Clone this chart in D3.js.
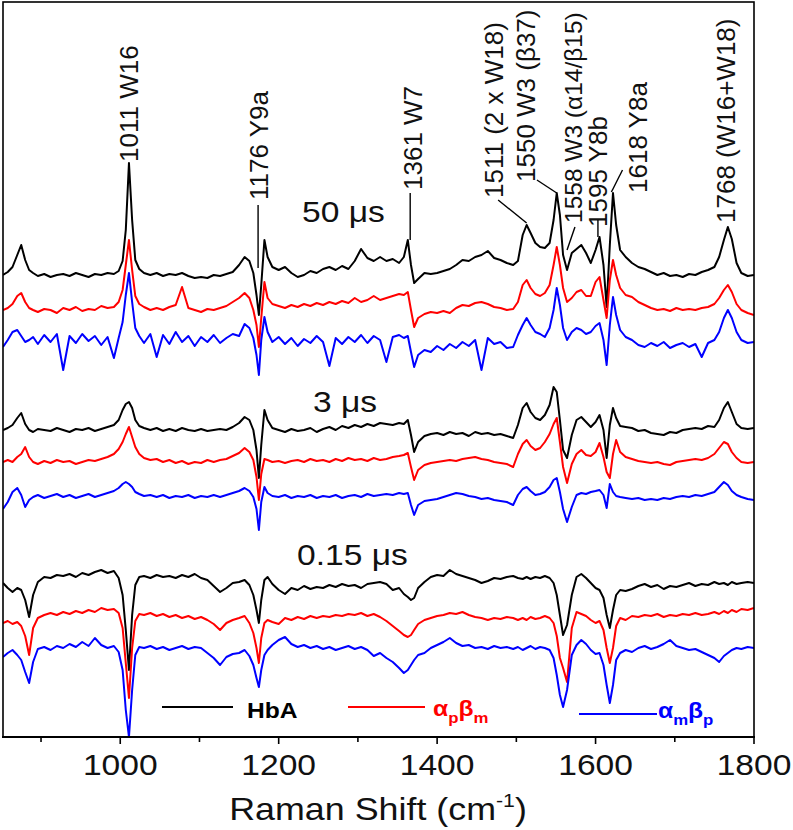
<!DOCTYPE html>
<html><head><meta charset="utf-8">
<script src="https://cdn.jsdelivr.net/npm/d3@7"></script>
<style>
html,body{margin:0;padding:0;background:#fff;}
svg{display:block;font-family:"Liberation Sans",Arial,sans-serif;}
</style></head>
<body><svg id="c" width="793" height="830"></svg>
<script>
// ---------------- data ----------------
const shifts = [
 852,858,864,870,875,880,885,890,896,904,
 912,920,928,936,944,952,960,968,976,984,
 992,998,1003,1007,1011,1015,1019,1024,1030,1038,
 1046,1054,1062,1070,1078,1086,1094,1102,1110,1118,
 1126,1134,1142,1150,1157,1163,1168,1172,1175,1178,
 1182,1186,1192,1200,1208,1216,1224,1232,1240,1248,
 1256,1264,1272,1280,1288,1296,1304,1312,1320,1328,
 1336,1344,1352,1358,1363,1367,1371,1376,1384,1392,
 1400,1408,1416,1424,1432,1440,1448,1456,1464,1472,
 1480,1488,1496,1502,1508,1513,1518,1524,1530,1536,
 1542,1547,1551,1555,1559,1564,1570,1576,1582,1588,
 1594,1600,1605,1610,1614,1618,1622,1626,1631,1638,
 1646,1654,1662,1670,1678,1686,1694,1702,1710,1718,
 1726,1734,1742,1750,1756,1762,1767,1772,1778,1784,
 1792,1800];

// 50 us
const hbA_50 = [
 0,3,8,20,30,15,5,2,-1,1,
 -2,0,1,-1,2,0,-2,1,0,2,
 1,4,14,45,112,55,15,6,2,0,
 2,-1,1,0,2,-1,-3,-2,-3,0,
 -1,1,3,10,18,14,2,-20,-40,-10,
 35,18,8,5,8,2,-2,0,4,2,
 6,8,5,9,6,14,26,17,14,18,
 14,16,12,18,35,10,-8,-4,2,1,
 2,4,6,10,15,14,18,20,24,17,
 15,12,10,14,40,50,42,32,28,27,
 32,55,82,60,20,5,22,26,30,22,
 12,25,38,10,-32,30,82,50,25,18,
 12,8,6,3,0,2,-1,0,-2,1,
 0,3,5,8,18,35,48,36,12,2,
 -1,0];
const apbm_50 = [
 0,2,6,14,17,8,2,0,-2,1,
 0,-3,2,0,3,-1,1,0,4,2,
 3,8,20,45,70,40,14,6,3,0,
 2,0,3,5,23,2,0,-2,1,0,
 2,4,8,12,17,12,0,-15,-37,-8,
 28,12,6,4,2,5,3,6,4,7,
 5,8,6,9,7,12,8,10,14,10,
 12,14,16,15,18,0,-17,-8,-4,-2,
 -3,-1,-3,2,5,4,7,8,6,3,
 2,0,1,8,25,30,22,16,14,17,
 25,45,63,45,22,8,12,18,20,14,
 14,28,33,10,-8,30,50,35,22,15,
 13,8,5,2,0,1,-1,2,0,1,
 0,2,3,6,12,20,25,18,6,0,
 -3,-5];
const ambp_50 = [
 -7,0,8,10,4,-2,0,3,-4,5,
 -2,6,-30,4,-3,6,-1,4,-5,3,
 -18,2,18,45,67,38,12,4,-3,6,
 -17,5,-4,8,-2,4,-6,3,-2,5,
 -3,2,6,4,16,12,2,-15,-35,0,
 23,8,-2,3,-4,2,-6,1,-3,4,
 -2,-26,2,-4,3,-2,5,-3,4,0,
 -22,3,5,2,4,-12,-27,-15,-10,-12,
 -6,-10,-4,-8,-2,-6,0,-30,2,-4,
 -2,-8,-7,5,15,22,15,8,6,3,
 12,30,52,35,12,0,8,12,10,6,
 8,14,17,0,-25,15,43,25,10,3,
 0,-5,-7,-3,-6,-2,-8,-5,-3,-7,
 -4,-17,-3,0,8,22,30,22,8,0,
 -3,-2];
// 3 us
const hbA_3 = [
 0,2,5,12,17,6,0,-2,1,0,
 -1,2,0,-2,1,0,2,-1,1,3,
 5,10,20,26,28,22,10,4,2,0,
 2,-1,1,-1,2,0,-1,1,-1,0,
 1,0,3,7,13,10,0,-20,-48,-15,
 20,10,2,0,-2,1,-1,0,2,-2,
 1,3,0,4,2,5,3,6,4,7,
 6,5,7,6,10,-5,-22,-12,-6,-4,
 -3,-5,-2,-4,-3,-6,-2,-4,-3,-5,
 -4,-6,-8,5,22,27,18,12,10,15,
 25,43,38,10,-20,-28,-5,10,13,8,
 3,8,15,0,-28,5,22,12,4,3,
 2,-1,0,-3,-4,-5,-2,-3,0,1,
 2,1,4,3,10,22,28,18,6,2,
 1,2];
const apbm_3 = [
 0,2,0,5,8,15,5,0,-2,1,
 -1,2,0,1,-2,0,2,1,3,5,
 8,13,20,28,35,25,15,8,4,2,
 3,0,2,-1,1,-2,0,-1,2,0,
 2,3,6,9,14,10,2,-15,-38,-12,
 3,2,0,1,-1,1,2,0,3,1,
 2,0,3,1,4,2,3,1,4,2,
 3,5,6,7,9,-5,-18,-8,-3,-1,
 0,1,2,1,3,4,5,3,2,0,
 -1,-2,-5,8,18,22,16,12,14,20,
 28,38,44,20,-5,-21,-2,8,12,7,
 6,10,19,5,-10,-16,8,22,10,5,
 3,1,0,-1,0,-2,-3,0,1,2,
 3,2,4,8,14,20,18,10,4,0,
 -1,0];
const ambp_3 = [
 -12,-5,5,9,2,-10,-3,0,2,-1,
 1,3,0,2,-1,1,3,0,2,4,
 6,9,13,15,13,10,5,3,1,2,
 0,2,-1,1,0,2,-1,1,0,2,
 0,2,4,6,9,6,0,-12,-33,-5,
 10,4,1,0,2,-1,1,0,2,-1,
 1,0,2,-1,1,2,0,3,1,2,
 3,2,4,3,4,-8,-18,-8,-4,-3,
 -2,0,2,4,3,1,0,-2,-1,-3,
 -4,-5,-8,2,8,10,6,2,3,5,
 10,17,19,5,-12,-25,-10,2,4,3,
 5,6,7,2,-11,13,5,1,0,-1,
 -2,-1,-3,-2,-3,-1,-2,0,1,0,
 2,1,3,5,10,15,12,6,2,0,
 -2,-3];
// 0.15 us
const hbA_015 = [
 -3,-8,-12,-8,-10,-20,-37,-15,-2,3,
 2,5,4,6,3,7,5,8,10,7,
 9,2,-15,-50,-90,-35,-5,3,4,2,
 5,3,4,2,5,3,6,2,0,-6,
 -12,-8,-3,-2,0,-5,-15,-30,-43,-20,
 0,3,-4,-10,-14,-8,-10,-6,-9,-7,
 -8,-5,-7,-4,-6,-5,-8,-4,-3,-2,
 -4,-10,-8,-14,-17,-20,-18,-8,-2,3,
 5,4,10,6,4,2,0,-3,-1,2,
 1,3,4,2,1,3,1,3,2,4,
 2,-3,-15,-35,-55,-45,-15,3,6,2,
 -3,-8,-10,-18,-35,-48,-30,-15,-10,-11,
 -9,-6,-4,-7,-5,-9,-6,-7,-5,-3,
 -6,-4,-5,-2,-4,-3,-5,-2,-4,-3,
 -2,-3];
const apbm_015 = [
 -5,-3,-6,-4,-8,-18,-37,-10,0,3,
 5,3,6,4,7,5,8,6,10,8,
 9,5,-10,-45,-80,-30,-3,4,3,5,
 2,4,1,3,0,2,-1,1,-2,-6,
 -12,-5,-2,0,2,-5,-15,-30,-45,-20,
 -5,-2,-4,-6,0,-2,1,-1,2,0,
 2,1,3,2,4,3,5,2,4,1,
 -3,-8,-13,-17,-19,-17,-12,-6,-2,0,
 2,3,5,4,6,3,1,0,-2,0,
 -1,1,0,-2,0,-2,1,-1,0,2,
 0,-5,-18,-40,-50,-64,-10,6,4,2,
 -2,-5,-3,-12,-30,-45,-30,-8,0,-2,
 2,1,3,2,4,1,3,2,4,3,
 5,3,4,6,4,7,5,8,6,9,
 8,10];
const ambp_015 = [
 -7,-3,0,-5,-10,-22,-33,-12,1,3,
 0,4,2,6,3,8,4,12,5,2,
 4,-2,-20,-60,-87,-40,-5,3,2,4,
 1,3,0,2,4,1,3,2,-3,-8,
 -15,-7,-4,-3,0,-6,-15,-28,-37,-20,
 -5,0,5,10,13,6,3,5,2,4,
 1,3,0,2,4,1,3,0,-6,-3,
 -8,-12,-18,-23,-20,-15,-10,-5,-3,2,
 5,8,12,7,4,5,2,3,1,4,
 2,3,1,3,0,2,4,1,3,2,
 0,-8,-25,-45,-57,-40,-5,5,10,6,
 0,-4,-3,-15,-35,-53,-35,-10,-3,0,
 -2,2,4,1,3,6,10,4,2,0,
 1,-2,-5,-8,-12,-6,-3,0,2,1,
 3,2];

const seriesValues = [hbA_50, apbm_50, ambp_50, hbA_3, apbm_3, ambp_3, hbA_015, apbm_015, ambp_015];
const stackOffsets = [462, 427, 397, 307, 275, 240, 157, 119, 87];
const seriesColors = ["#000000", "#ff0000", "#0000ff", "#000000", "#ff0000", "#0000ff", "#000000", "#ff0000", "#0000ff"];
const xTicks = [1000, 1200, 1400, 1600, 1800];
const xMinorTicks = [900, 1000, 1100, 1200, 1300, 1400, 1500, 1600, 1700, 1800];
const delayLabels = ["50 \u03bcs", "3 \u03bcs", "0.15 \u03bcs"];
const bandLabels = ["1011 W16", "1176 Y9a", "1361 W7", "1511 (2 x W18)", "1550 W3 (\u03b237)",
  "1558 W3 (\u03b114/\u03b215)", "1595 Y8b", "1618 Y8a", "1768 (W16+W18)"];
const bandLabelShift = [1022, 1186, 1381, 1483, 1523, 1583, 1614, 1665, 1776];

// ---------------- layout ----------------
const svg = d3.select("#c");
const L = 3, R = 754, T = 2, B = 737;
const x = d3.scaleLinear().domain([852, 1800]).range([L, R]);
const y = d3.scaleLinear().domain([0, 735]).range([B, T]);
const STRETCH = 1.12;

svg.append("defs").append("clipPath").attr("id", "clip")
  .append("rect").attr("x", L).attr("y", T).attr("width", R - L).attr("height", B - T);

const line = d3.line().x(d => x(d[0])).y(d => y(d[1]));
const g = svg.append("g").attr("clip-path", "url(#clip)");
seriesValues.forEach((vals, i) => {
  const pts = shifts.map((s, k) => [s, stackOffsets[i] + vals[k]]);
  g.append("path").attr("d", line(pts)).attr("fill", "none")
    .attr("stroke", seriesColors[i]).attr("stroke-width", 2).attr("stroke-linejoin", "round");
});

// frame
svg.append("rect").attr("x", L).attr("y", T).attr("width", R - L).attr("height", B - T)
  .attr("fill", "none").attr("stroke", "#000").attr("stroke-width", 1.6);

// x axis
const axis = svg.append("g").attr("transform", `translate(0,${B})`);
axis.append("line").attr("x1", L - 1).attr("x2", R + 1).attr("stroke", "#000").attr("stroke-width", 2.2);
xMinorTicks.forEach(t => {
  const major = xTicks.includes(t);
  axis.append("line").attr("x1", x(t)).attr("x2", x(t)).attr("y1", 0).attr("y2", major ? 7 : 5)
    .attr("stroke", "#000").attr("stroke-width", 1.6);
});
xTicks.forEach(t => {
  axis.append("g").attr("transform", `translate(${x(t)},38) scale(${STRETCH},1)`)
    .append("text").attr("text-anchor", "middle").attr("font-size", 30).attr("fill", "#111").text(t);
});
const title = svg.append("g").attr("transform", `translate(378,820) scale(${STRETCH},1)`)
  .append("text").attr("text-anchor", "middle").attr("font-size", 32).attr("fill", "#111");
title.append("tspan").text("Raman Shift (cm");
title.append("tspan").attr("font-size", 19).attr("dy", -13).text("-1");
title.append("tspan").attr("dy", 13).text(")");

// delay labels
const delayPos = [[302, 222], [313, 412], [297, 565]];
delayLabels.forEach((t, i) => {
  svg.append("g").attr("transform", `translate(${delayPos[i][0]},${delayPos[i][1]}) scale(${STRETCH},1)`)
    .append("text").attr("font-size", 30).attr("fill", "#111").text(t);
});

// band labels (rotated)
const bandBottom = [162, 200, 190, 198, 182, 223, 227, 193, 223];
const bandSize = [26, 26, 26, 26, 26, 24.5, 26, 26, 26];
bandLabels.forEach((t, i) => {
  svg.append("text").attr("transform", `translate(${x(bandLabelShift[i])},${bandBottom[i]}) rotate(-90)`)
    .attr("font-size", bandSize[i]).attr("fill", "#111").text(t);
});
// leader lines [shift1, y1, shift2, y2]
const leaders = [[1174, 205, 1174, 268], [1366, 193, 1366, 240], [1477, 200, 1513, 223],
  [1526, 180, 1551, 193], [1574, 227, 1564, 250], [1603, 220, 1603, 237], [1634, 170, 1620, 192]];
leaders.forEach(l => {
  svg.append("line").attr("x1", x(l[0])).attr("y1", l[1]).attr("x2", x(l[2])).attr("y2", l[3])
    .attr("stroke", "#000").attr("stroke-width", 1.4);
});

// legend
const leg = svg.append("g");
leg.append("line").attr("x1", 162).attr("x2", 233).attr("y1", 707).attr("y2", 707).attr("stroke", "#000").attr("stroke-width", 2);
leg.append("g").attr("transform", `translate(247,718) scale(${STRETCH},1)`)
  .append("text").attr("font-size", 22).attr("font-weight", "bold").attr("fill", "#000").text("HbA");
leg.append("line").attr("x1", 348).attr("x2", 425).attr("y1", 707).attr("y2", 707).attr("stroke", "#ff0000").attr("stroke-width", 2);
const t2 = leg.append("g").attr("transform", `translate(433,716) scale(${STRETCH},1)`)
  .append("text").attr("font-size", 22).attr("font-weight", "bold").attr("fill", "#ff0000");
t2.append("tspan").text("\u03b1");
t2.append("tspan").attr("font-size", 15).attr("dy", 7).text("p");
t2.append("tspan").attr("dy", -7).text("\u03b2");
t2.append("tspan").attr("font-size", 15).attr("dy", 7).text("m");
leg.append("line").attr("x1", 579).attr("x2", 657).attr("y1", 714).attr("y2", 714).attr("stroke", "#0000ff").attr("stroke-width", 2);
const t3 = leg.append("g").attr("transform", `translate(658,718) scale(${STRETCH},1)`)
  .append("text").attr("font-size", 22).attr("font-weight", "bold").attr("fill", "#0000ff");
t3.append("tspan").text("\u03b1");
t3.append("tspan").attr("font-size", 15).attr("dy", 7).text("m");
t3.append("tspan").attr("dy", -7).text("\u03b2");
t3.append("tspan").attr("font-size", 15).attr("dy", 7).text("p");
</script></body></html>
